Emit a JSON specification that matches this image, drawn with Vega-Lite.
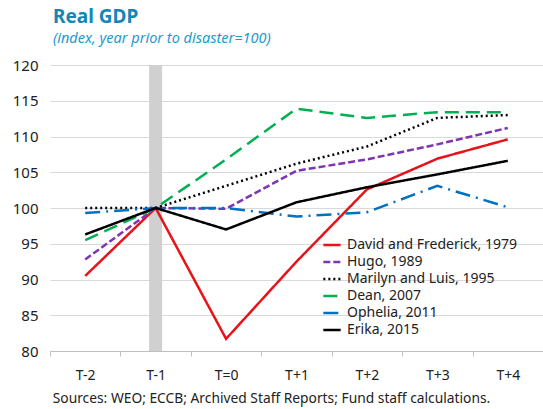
{
  "$schema": "https://vega.github.io/schema/vega-lite/v6.json",
  "width": 493,
  "height": 286,
  "autosize": {"type": "none"},
  "padding": {"left": 50, "top": 65, "right": 0, "bottom": 58},
  "background": "white",
  "config": {
    "font": "Noto Sans",
    "view": {"stroke": null},
    "axisY": {"tickCount": 8, "labelOverlap": false}
  },
  "title": {
    "text": "Real GDP",
    "subtitle": "(index, year prior to disaster=100)",
    "anchor": "start",
    "frame": "group",
    "fontSize": 19,
    "fontWeight": "bold",
    "color": "#1386b5",
    "subtitleColor": "#1a9bcf",
    "subtitleFontSize": 14.5,
    "subtitleFontStyle": "italic",
    "subtitlePadding": 5,
    "offset": 13,
    "dx": 3
  },
  "datasets": {
    "gdp": [
      {"series": "David and Frederick, 1979", "period": "T-2", "value": 90.5},
      {"series": "David and Frederick, 1979", "period": "T-1", "value": 100},
      {"series": "David and Frederick, 1979", "period": "T=0", "value": 81.7},
      {"series": "David and Frederick, 1979", "period": "T+1", "value": 92.5},
      {"series": "David and Frederick, 1979", "period": "T+2", "value": 102.6},
      {"series": "David and Frederick, 1979", "period": "T+3", "value": 106.9},
      {"series": "David and Frederick, 1979", "period": "T+4", "value": 109.6},
      {"series": "Hugo, 1989", "period": "T-2", "value": 92.8},
      {"series": "Hugo, 1989", "period": "T-1", "value": 100},
      {"series": "Hugo, 1989", "period": "T=0", "value": 99.9},
      {"series": "Hugo, 1989", "period": "T+1", "value": 105.2},
      {"series": "Hugo, 1989", "period": "T+2", "value": 106.8},
      {"series": "Hugo, 1989", "period": "T+3", "value": 108.9},
      {"series": "Hugo, 1989", "period": "T+4", "value": 111.2},
      {"series": "Marilyn and Luis, 1995", "period": "T-2", "value": 100},
      {"series": "Marilyn and Luis, 1995", "period": "T-1", "value": 100},
      {"series": "Marilyn and Luis, 1995", "period": "T=0", "value": 103.1},
      {"series": "Marilyn and Luis, 1995", "period": "T+1", "value": 106.2},
      {"series": "Marilyn and Luis, 1995", "period": "T+2", "value": 108.6},
      {"series": "Marilyn and Luis, 1995", "period": "T+3", "value": 112.6},
      {"series": "Marilyn and Luis, 1995", "period": "T+4", "value": 113.0},
      {"series": "Dean, 2007", "period": "T-2", "value": 95.5},
      {"series": "Dean, 2007", "period": "T-1", "value": 100},
      {"series": "Dean, 2007", "period": "T=0", "value": 106.8},
      {"series": "Dean, 2007", "period": "T+1", "value": 113.9},
      {"series": "Dean, 2007", "period": "T+2", "value": 112.6},
      {"series": "Dean, 2007", "period": "T+3", "value": 113.4},
      {"series": "Dean, 2007", "period": "T+4", "value": 113.4},
      {"series": "Ophelia, 2011", "period": "T-2", "value": 99.3},
      {"series": "Ophelia, 2011", "period": "T-1", "value": 100},
      {"series": "Ophelia, 2011", "period": "T=0", "value": 100},
      {"series": "Ophelia, 2011", "period": "T+1", "value": 98.8},
      {"series": "Ophelia, 2011", "period": "T+2", "value": 99.4},
      {"series": "Ophelia, 2011", "period": "T+3", "value": 103.1},
      {"series": "Ophelia, 2011", "period": "T+4", "value": 100.1},
      {"series": "Erika, 2015", "period": "T-2", "value": 96.3},
      {"series": "Erika, 2015", "period": "T-1", "value": 100},
      {"series": "Erika, 2015", "period": "T=0", "value": 97.0},
      {"series": "Erika, 2015", "period": "T+1", "value": 100.8},
      {"series": "Erika, 2015", "period": "T+2", "value": 102.9},
      {"series": "Erika, 2015", "period": "T+3", "value": 104.7},
      {"series": "Erika, 2015", "period": "T+4", "value": 106.6}
    ],
    "shade": [{"period": "T-1", "low": 80, "high": 120}]
  },
  "layer": [
    {
      "data": {"name": "shade"},
      "mark": {"type": "bar", "color": "#d0d0d0", "width": 13},
      "encoding": {
        "x": {
          "field": "period",
          "type": "nominal",
          "sort": ["T-2", "T-1", "T=0", "T+1", "T+2", "T+3", "T+4"],
          "scale": {"type": "band", "domain": ["T-2", "T-1", "T=0", "T+1", "T+2", "T+3", "T+4"], "paddingInner": 0, "paddingOuter": 0},
          "axis": {
            "title": "Sources: WEO;  ECCB; Archived Staff Reports; Fund staff calculations.",
            "titleFontSize": 13.8,
            "titleFontWeight": "normal",
            "titleColor": "#222",
            "titleX": 221,
            "titleAlign": "center",
            "titlePadding": 9,
            "labelAngle": 0,
            "labelFontSize": 14,
            "labelColor": "#222",
            "labelPadding": 12,
            "domainColor": "#bfbfbf",
            "tickColor": "#bfbfbf",
            "tickSize": 5,
            "tickBand": "extent",
            "grid": false
          }
        },
        "y": {
          "field": "low",
          "type": "quantitative",
          "scale": {"domain": [80, 120], "nice": false, "zero": false},
          "axis": {
            "title": null,
            "labelFontSize": 15,
            "labelColor": "#222",
            "labelPadding": 12,
            "domain": false,
            "ticks": false,
            "gridColor": "#d9d9d9",
            "gridWidth": 1.2
          }
        },
        "y2": {"field": "high"}
      }
    },
    {
      "data": {"name": "gdp"},
      "mark": {"type": "line"},
      "encoding": {
        "x": {"field": "period", "type": "nominal", "sort": ["T-2", "T-1", "T=0", "T+1", "T+2", "T+3", "T+4"]},
        "y": {"field": "value", "type": "quantitative"},
        "color": {
          "field": "series",
          "type": "nominal",
          "scale": {
            "domain": ["David and Frederick, 1979", "Hugo, 1989", "Marilyn and Luis, 1995", "Dean, 2007", "Ophelia, 2011", "Erika, 2015"],
            "range": ["#e8121a", "#7f35b2", "#000000", "#00b050", "#0070c0", "#000000"]
          },
          "legend": {
            "orient": "none",
            "legendX": 272,
            "legendY": 170,
            "title": null,
            "symbolType": "stroke",
            "symbolSize": 300,
            "symbolStrokeWidth": 2.2,
            "labelFontSize": 14,
            "labelLimit": 300,
            "labelColor": "#222",
            "labelOffset": 5,
            "rowPadding": -4
          }
        },
        "strokeDash": {
          "field": "series",
          "type": "nominal",
          "scale": {
            "domain": ["David and Frederick, 1979", "Hugo, 1989", "Marilyn and Luis, 1995", "Dean, 2007", "Ophelia, 2011", "Erika, 2015"],
            "range": [[1, 0], [7, 3], [2, 3], [14, 7], [15, 6, 2, 6], [1, 0]]
          }
        },
        "strokeWidth": {
          "field": "series",
          "type": "nominal",
          "scale": {
            "domain": ["David and Frederick, 1979", "Hugo, 1989", "Marilyn and Luis, 1995", "Dean, 2007", "Ophelia, 2011", "Erika, 2015"],
            "range": [2.5, 2.5, 2.5, 2.5, 2.5, 1.6]
          },
          "legend": null
        }
      }
    }
  ]
}
